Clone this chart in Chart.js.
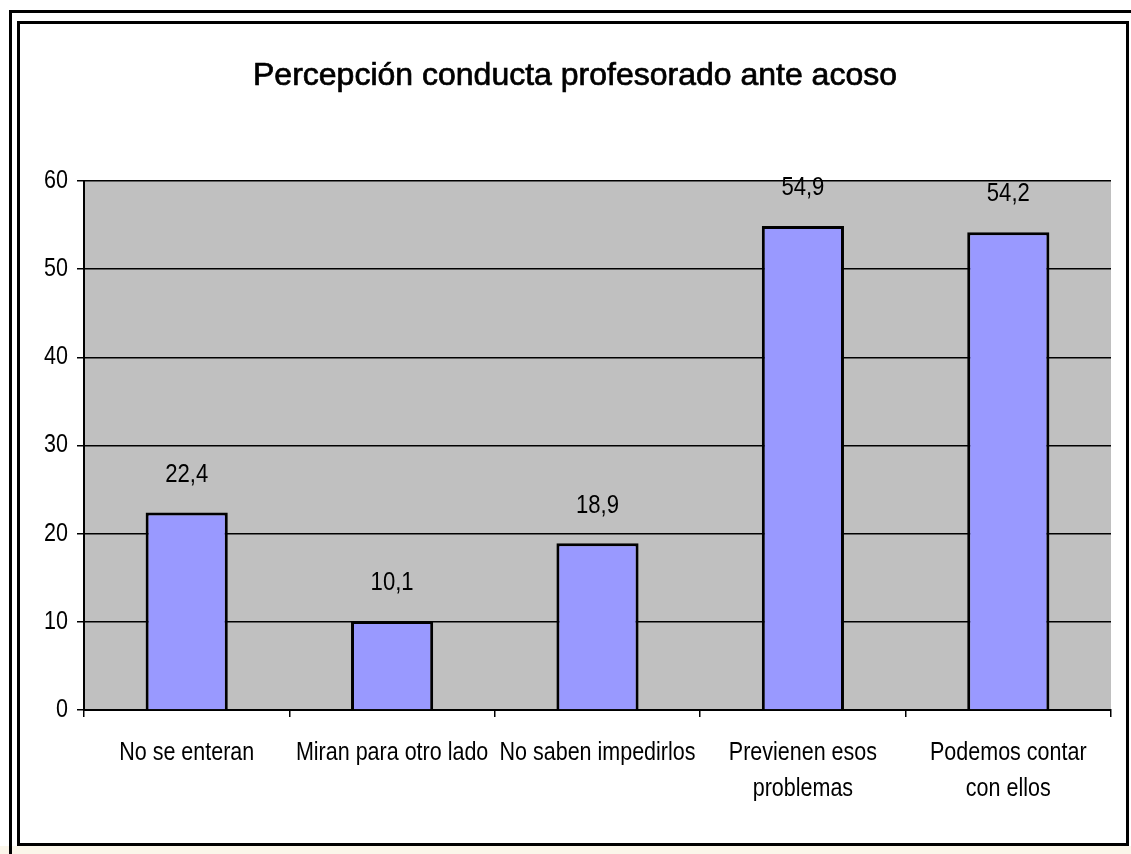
<!DOCTYPE html>
<html lang="es">
<head>
<meta charset="UTF-8">
<title>Percepción conducta profesorado ante acoso</title>
<script src="https://cdn.jsdelivr.net/npm/chart.js"></script>
<style>
html, body { margin: 0; padding: 0; background: #fff; }
#wrap { width: 1131px; height: 854px; position: relative; }
</style>
</head>
<body>
<div id="wrap"><canvas id="grafico"></canvas></div>
<script>
const categorias = [
  "No se enteran",
  "Miran para otro lado",
  "No saben impedirlos",
  ["Previenen esos", "problemas"],
  ["Podemos contar", "con ellos"]
];
const porcentajes = [22.4, 10.1, 18.9, 54.9, 54.2];
const yTicks = [0, 10, 20, 30, 40, 50, 60];

const fuente = "'Liberation Sans', Arial, sans-serif";

// texto estrechado (el original usa una Arial condensada)
function texto(ctx, s, x, y, size, escala, align, base) {
  ctx.save();
  ctx.font = size + 'px ' + fuente;
  ctx.textAlign = align;
  ctx.textBaseline = base;
  ctx.translate(x, y);
  ctx.scale(escala, 1);
  ctx.fillText(s, 0, 0);
  ctx.restore();
}

// fondo gris del área de trazado + marco exterior
const fondo = {
  id: 'fondo',
  beforeDraw(chart) {
    const { ctx, chartArea: a } = chart;
    ctx.save();
    ctx.fillStyle = '#fbf6ea';
    ctx.fillRect(0, 846, chart.width, chart.height - 846);
    ctx.fillStyle = '#fff';
    ctx.fillRect(19, 23, 1108, 821);
    ctx.fillStyle = '#c0c0c0';
    ctx.fillRect(a.left, a.top, a.right - a.left, a.bottom - a.top);
    ctx.restore();
  },
  afterDraw(chart) {
    const { ctx } = chart;
    ctx.save();
    ctx.strokeStyle = '#000';
    ctx.lineWidth = 3;
    ctx.beginPath();
    ctx.moveTo(10.5, chart.height);
    ctx.lineTo(10.5, 11.5);
    ctx.lineTo(chart.width, 11.5);
    ctx.stroke();
    ctx.strokeRect(18.5, 22.5, 1109, 822);
    // título
    ctx.fillStyle = '#000';
    ctx.strokeStyle = '#000';
    ctx.lineWidth = 0.7;
    ctx.font = "32px " + fuente;
    ctx.textAlign = 'center';
    ctx.textBaseline = 'alphabetic';
    ctx.fillText('Percepción conducta profesorado ante acoso', 575, 85);
    ctx.strokeText('Percepción conducta profesorado ante acoso', 575, 85);
    ctx.restore();
  }
};

// rótulos de ejes y etiquetas de valor
const etiquetas = {
  id: 'etiquetas',
  afterDraw(chart) {
    const { ctx, scales: { x, y } } = chart;
    ctx.save();
    ctx.fillStyle = '#000';
    yTicks.forEach(v => {
      texto(ctx, String(v), 68, y.getPixelForValue(v), 25, 0.86, 'right', 'middle');
    });
    categorias.forEach((c, i) => {
      const lineas = Array.isArray(c) ? c : [c];
      lineas.forEach((l, j) => {
        texto(ctx, l, x.getPixelForTick(i), 760 + j * 36, 25, 0.86, 'center', 'alphabetic');
      });
    });
    chart.getDatasetMeta(0).data.forEach((bar, i) => {
      texto(ctx, porcentajes[i].toFixed(1).replace('.', ','), bar.x, bar.y - 25, 26, 0.85, 'center', 'bottom');
    });
    ctx.restore();
  }
};

new Chart(document.getElementById('grafico'), {
  type: 'bar',
  data: {
    labels: categorias,
    datasets: [{
      data: porcentajes,
      backgroundColor: '#9999ff',
      borderColor: '#000',
      borderWidth: 3,
      categoryPercentage: 1,
      barPercentage: 0.4
    }]
  },
  options: {
    responsive: true,
    maintainAspectRatio: false,
    animation: false,
    layout: { padding: { top: 181, right: 20, left: 0, bottom: 0 } },
    plugins: {
      legend: { display: false },
      tooltip: { enabled: false }
    },
    scales: {
      x: {
        afterFit: s => { s.height = 144; },
        grid: {
          offset: true,
          drawOnChartArea: false,
          color: '#000',
          tickLength: 7,
          lineWidth: 1.5
        },
        border: { color: '#000', width: 2 },
        ticks: { display: false, autoSkip: false }
      },
      y: {
        min: 0,
        max: 60,
        afterFit: s => { s.width = 84; },
        afterBuildTicks: s => { s.ticks = yTicks.map(v => ({ value: v })); },
        grid: {
          color: '#000',
          lineWidth: 1.5,
          tickLength: 7
        },
        border: { color: '#000', width: 2 },
        ticks: { display: false }
      }
    }
  },
  plugins: [fondo, etiquetas]
});
</script>
</body>
</html>
